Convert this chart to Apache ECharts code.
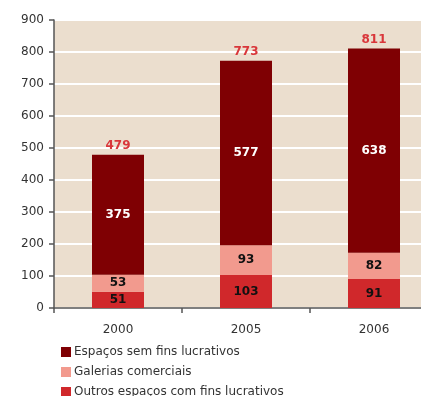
<!DOCTYPE html>
<html>
<head>
<meta charset="utf-8">
<script src="https://cdn.jsdelivr.net/npm/echarts@6/dist/echarts.min.js"></script>
<style>
  html, body { margin: 0; padding: 0; background: #ffffff; overflow: hidden; width: 421px; height: 396px; }
  #chart { width: 438px; height: 420px; }
</style>
</head>
<body>
<div id="chart"></div>
<script>
// Anos e número de espaços por tipo
const categories = ['2000', '2005', '2006'];
const outrosEspacos = [51, 103, 91];
const galerias = [53, 93, 82];
const semFins = [375, 577, 638];
const yTicks = { min: 0, max: 900, interval: 100 };

const totals = categories.map((_, i) => outrosEspacos[i] + galerias[i] + semFins[i]);

const FONT = 'DejaVu Sans';
const chart = echarts.init(document.getElementById('chart'), null, { renderer: 'canvas' });

function innerLabel(color) {
  return {
    show: true,
    position: 'inside',
    color: color,
    fontFamily: FONT,
    fontWeight: 'bold',
    fontSize: 12
  };
}

chart.setOption({
  animation: false,
  backgroundColor: '#ffffff',
  grid: {
    left: 54, right: 0, top: 20, bottom: 112,
    show: true, backgroundColor: '#EBDECE', borderWidth: 0
  },
  legend: {
    orient: 'vertical',
    left: 56, top: 341,
    itemWidth: 10, itemHeight: 10, itemGap: 8,
    icon: 'rect',
    textStyle: { fontFamily: FONT, fontSize: 12, color: '#333333', padding: [0, 0, 0, -2] },
    data: ['Espaços sem fins lucrativos', 'Galerias comerciais', 'Outros espaços com fins lucrativos']
  },
  xAxis: {
    type: 'category',
    data: categories,
    axisLine: { lineStyle: { color: '#555555', width: 1.5 } },
    axisTick: { show: true, length: 5, lineStyle: { color: '#555555', width: 1.5 } },
    axisLabel: { fontFamily: FONT, fontSize: 12, color: '#333333', margin: 16 }
  },
  yAxis: {
    type: 'value',
    min: yTicks.min, max: yTicks.max, interval: yTicks.interval,
    axisLine: { show: true, lineStyle: { color: '#555555', width: 1.5 } },
    axisTick: { show: true, length: 5, lineStyle: { color: '#555555', width: 1.5 } },
    axisLabel: { fontFamily: FONT, fontSize: 12, color: '#333333', margin: 10 },
    splitLine: { lineStyle: { color: '#ffffff', width: 2 } }
  },
  series: [
    {
      name: 'Outros espaços com fins lucrativos',
      type: 'bar', stack: 'total', barWidth: 52,
      itemStyle: { color: '#D0282B' },
      label: innerLabel('#111111'),
      data: outrosEspacos
    },
    {
      name: 'Galerias comerciais',
      type: 'bar', stack: 'total',
      itemStyle: { color: '#F29A8E' },
      label: innerLabel('#111111'),
      data: galerias
    },
    {
      name: 'Espaços sem fins lucrativos',
      type: 'bar', stack: 'total',
      itemStyle: { color: '#7F0003' },
      label: innerLabel('#ffffff'),
      data: semFins
    },
    {
      // Totais por ano, escritos acima de cada coluna
      name: 'Total',
      type: 'line',
      symbol: 'circle',
      symbolSize: 0,
      showSymbol: true,
      lineStyle: { width: 0, opacity: 0 },
      itemStyle: { color: '#D9363A', opacity: 1 },
      label: {
        show: true, position: 'top', distance: 3,
        color: '#D9363A', fontFamily: FONT, fontWeight: 'bold', fontSize: 12, opacity: 1
      },
      emphasis: { disabled: true },
      data: totals,
      z: 5
    }
  ]
});
</script>
</body>
</html>
